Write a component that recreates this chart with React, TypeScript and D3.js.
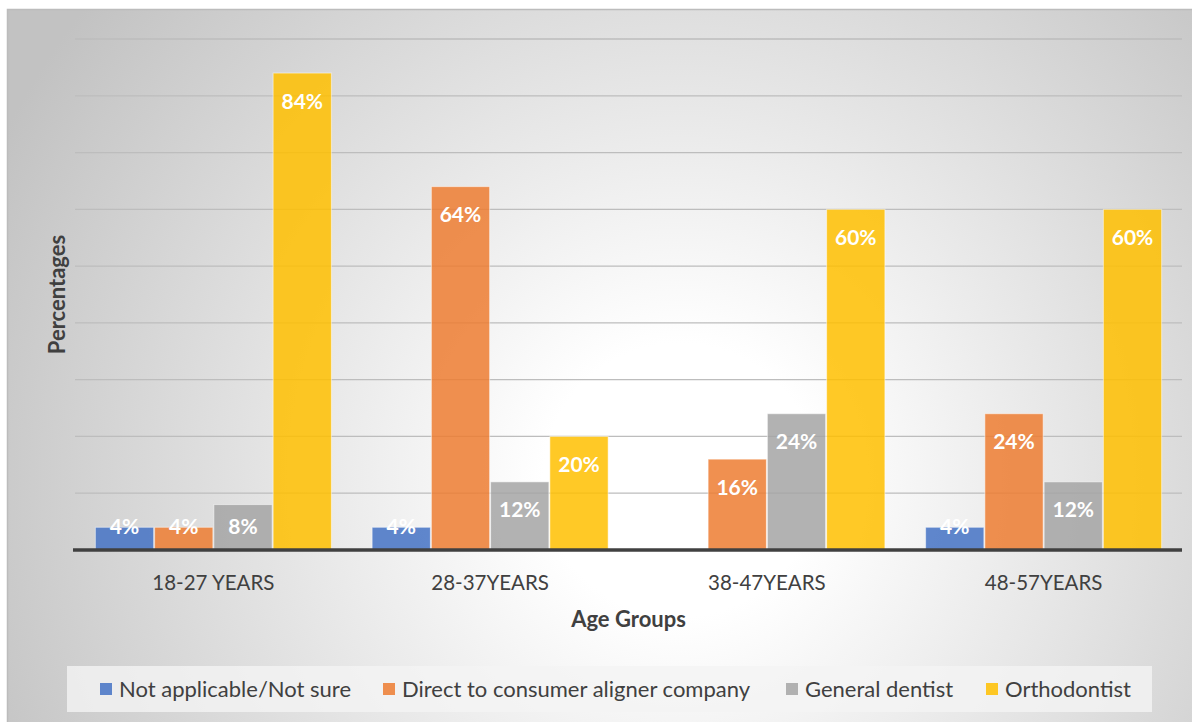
import React from "react";
import * as d3 from "d3";

const categories = ["18-27 YEARS", "28-37YEARS", "38-47YEARS", "48-57YEARS"];
const seriesNames = [
  "Not applicable/Not sure",
  "Direct to consumer aligner company",
  "General dentist",
  "Orthodontist",
];
const notApplicable = [4, 4, 0, 4];
const directToConsumer = [4, 64, 16, 24];
const generalDentist = [8, 12, 24, 12];
const orthodontist = [84, 20, 60, 60];
const gridTicks = [10, 20, 30, 40, 50, 60, 70, 80, 90];

const seriesValues = [notApplicable, directToConsumer, generalDentist, orthodontist];
const colors = ["#4472C4", "#ED7D31", "#A5A5A5", "#FFC000"];

const W = 1192;
const H = 722;
const plot = { left: 75, right: 1182, top: 39, bottom: 550 };
const FONT = "Lato, 'Open Sans', sans-serif";
const legendX = [100, 383, 786, 986];

export default function App() {
  const y = d3.scaleLinear().domain([0, 90]).range([plot.bottom, plot.top]);
  const x0 = d3
    .scaleBand<string>()
    .domain(categories)
    .range([plot.left, plot.right])
    .paddingInner(0.1436)
    .paddingOuter(0.0718);
  const x1 = d3
    .scaleBand<string>()
    .domain(seriesNames)
    .range([0, x0.bandwidth()])
    .padding(0);

  return (
    <svg
      width={W}
      height={H}
      style={{ position: "absolute", left: 0, top: 0, display: "block" }}
    >
      <defs>
        <radialGradient
          id="bg"
          gradientUnits="userSpaceOnUse"
          cx={680}
          cy={480}
          r={760}
        >
          <stop offset="0" stopColor="#ffffff" />
          <stop offset="0.18" stopColor="#ffffff" />
          <stop offset="1" stopColor="#c2c2c2" />
        </radialGradient>
      </defs>
      <rect x={0} y={0} width={W} height={H} fill="#ffffff" />
      <rect
        x={7.5}
        y={9.5}
        width={W + 10}
        height={H + 10}
        fill="url(#bg)"
        stroke="#bcbcbc"
        strokeWidth={1.5}
      />

      {/* horizontal gridlines */}
      {gridTicks.map((t) => (
        <line
          key={t}
          x1={plot.left}
          x2={plot.right}
          y1={y(t)}
          y2={y(t)}
          stroke="#bdbdbd"
          strokeWidth={1.3}
        />
      ))}

      {/* bars */}
      {categories.map((cat, ci) => (
        <g key={cat} transform={`translate(${x0(cat)},0)`}>
          {seriesNames.map((s, si) => {
            const v = seriesValues[si][ci];
            if (!v) return null;
            const bx = x1(s)!;
            const top = y(v);
            return (
              <rect
                key={s}
                x={bx + 0.5}
                y={top}
                width={x1.bandwidth() - 1}
                height={plot.bottom - top}
                fill={colors[si]}
                fillOpacity={0.85}
                stroke="#ffffff"
                strokeOpacity={0.5}
                strokeWidth={1}
              />
            );
          })}
        </g>
      ))}

      {/* baseline */}
      <line
        x1={plot.left - 2}
        x2={plot.right}
        y1={plot.bottom}
        y2={plot.bottom}
        stroke="#404040"
        strokeWidth={3.5}
      />

      {/* value labels */}
      {categories.map((cat, ci) =>
        seriesNames.map((s, si) => {
          const v = seriesValues[si][ci];
          if (!v) return null;
          const cx = x0(cat)! + x1(s)! + x1.bandwidth() / 2;
          const cy = Math.min(y(v) + 28, plot.bottom - 24);
          return (
            <text
              key={`${cat}-${s}`}
              x={cx}
              y={cy + 7.5}
              textAnchor="middle"
              fill="#ffffff"
              fontFamily={FONT}
              fontWeight={700}
              fontSize={21}
            >
              {v}%
            </text>
          );
        })
      )}

      {/* category labels */}
      {categories.map((cat) => (
        <text
          key={cat}
          x={x0(cat)! + x0.bandwidth() / 2}
          y={590}
          textAnchor="middle"
          fill="#404040"
          fontFamily={FONT}
          fontSize={20.5}
        >
          {cat}
        </text>
      ))}

      {/* axis titles */}
      <text
        x={(plot.left + plot.right) / 2}
        y={627}
        textAnchor="middle"
        fill="#404040"
        fontFamily={FONT}
        fontWeight={700}
        fontSize={22}
      >
        Age Groups
      </text>
      <text
        transform={`translate(65,${(plot.top + plot.bottom) / 2}) rotate(-90)`}
        textAnchor="middle"
        fill="#404040"
        fontFamily={FONT}
        fontWeight={700}
        fontSize={22}
      >
        Percentages
      </text>

      {/* legend */}
      <rect x={67} y={666} width={1085} height={46} fill="#f4f4f4" fillOpacity={0.8} />
      {seriesNames.map((s, si) => (
        <g key={s} transform={`translate(${legendX[si]},689)`}>
          <rect x={0} y={-6} width={12} height={12} fill={colors[si]} fillOpacity={0.85} />
          <text
            x={19}
            y={7.5}
            fill="#404040"
            fontFamily={FONT}
            fontSize={22}
          >
            {s}
          </text>
        </g>
      ))}
    </svg>
  );
}
